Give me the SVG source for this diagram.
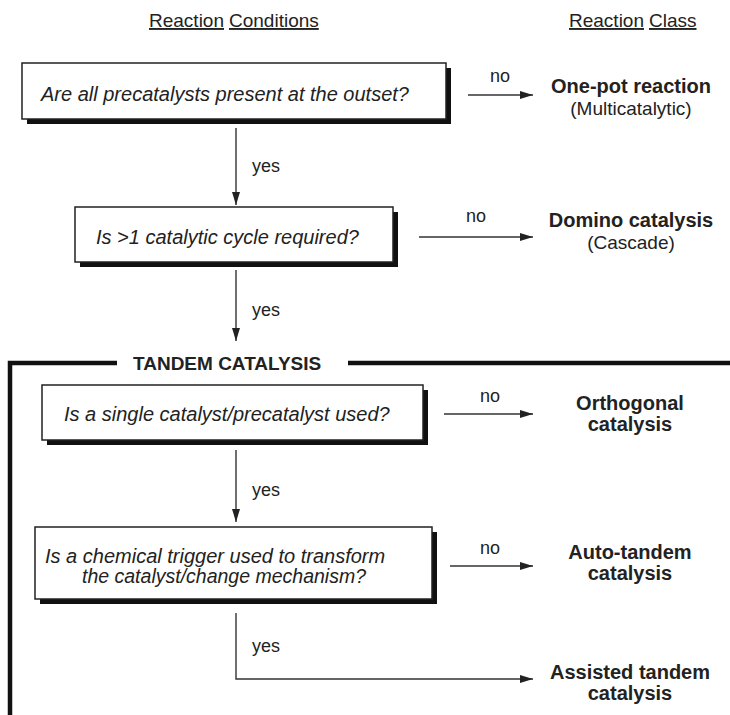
<svg xmlns="http://www.w3.org/2000/svg" width="730" height="715" viewBox="0 0 730 715">
<defs>
<marker id="ah" markerUnits="userSpaceOnUse" markerWidth="14" markerHeight="10" refX="13" refY="4" orient="auto">
<path d="M0,0 L13,4 L0,8 z" fill="#222"/>
</marker>
<style>
.hdr{font-family:"Liberation Sans",Arial,sans-serif;font-size:19px;fill:#222;text-decoration:underline}
.q{font-family:"Liberation Sans",Arial,sans-serif;font-size:20px;font-style:italic;fill:#222}
.lb{font-family:"Liberation Sans",Arial,sans-serif;font-size:20px;font-weight:bold;fill:#222;text-anchor:middle}
.sub{font-family:"Liberation Sans",Arial,sans-serif;font-size:19px;fill:#222;text-anchor:middle}
.yn{font-family:"Liberation Sans",Arial,sans-serif;font-size:18px;fill:#222}
.box{fill:#fff;stroke:#222;stroke-width:1.5}
.sh{fill:#111}
.ln{stroke:#333;stroke-width:1.4;fill:none}
.br{stroke:#111;stroke-width:4.5;fill:none}
</style>
</defs>
<rect width="730" height="715" fill="#fff"/>

<g id="headers">
<text class="hdr" x="149" y="27">Reaction</text>
<text class="hdr" x="229" y="27">Conditions</text>
<text class="hdr" x="569" y="27">Reaction</text>
<text class="hdr" x="649" y="27">Class</text>
</g>

<g id="tandem-bracket">
<path class="br" d="M10,715 L10,363 L117,363"/>
<path class="br" d="M348,363 L730,363"/>
<text x="133" y="370" style="font-family:'Liberation Sans',Arial,sans-serif;font-size:19px;font-weight:bold;fill:#222">TANDEM CATALYSIS</text>
</g>

<g id="connectors">
<line class="ln" x1="236" y1="128" x2="236" y2="205" marker-end="url(#ah)"/>
<line class="ln" x1="468" y1="95" x2="533" y2="95" marker-end="url(#ah)"/>
<line class="ln" x1="236" y1="270" x2="236" y2="341" marker-end="url(#ah)"/>
<line class="ln" x1="419" y1="237" x2="533" y2="237" marker-end="url(#ah)"/>
<line class="ln" x1="444" y1="414" x2="533" y2="414" marker-end="url(#ah)"/>
<line class="ln" x1="236" y1="450" x2="236" y2="522" marker-end="url(#ah)"/>
<line class="ln" x1="450" y1="566" x2="533" y2="566" marker-end="url(#ah)"/>
<path class="ln" d="M236,613 L236,679 L533,679" marker-end="url(#ah)"/>
<text class="yn" x="490" y="82">no</text>
<text class="yn" x="252" y="172">yes</text>
<text class="yn" x="466" y="222">no</text>
<text class="yn" x="252" y="316">yes</text>
<text class="yn" x="480" y="402">no</text>
<text class="yn" x="252" y="496">yes</text>
<text class="yn" x="480" y="554">no</text>
<text class="yn" x="252" y="652">yes</text>
</g>

<g id="q1">
<rect class="sh" x="27" y="68" width="424" height="56"/>
<rect class="box" x="22" y="63" width="424" height="56"/>
<text class="q" x="41" y="101">Are all precatalysts present at the outset?</text>
</g>

<g id="q2">
<rect class="sh" x="80" y="212" width="318" height="55"/>
<rect class="box" x="75" y="207" width="318" height="55"/>
<text class="q" x="96" y="244">Is &gt;1 catalytic cycle required?</text>
</g>

<g id="q3">
<rect class="sh" x="47" y="390" width="381" height="55"/>
<rect class="box" x="42" y="385" width="381" height="55"/>
<text class="q" x="64" y="421">Is a single catalyst/precatalyst used?</text>
</g>

<g id="q4">
<rect class="sh" x="40" y="532" width="397" height="72"/>
<rect class="box" x="35" y="527" width="397" height="72"/>
<text class="q" x="45" y="563">Is a chemical trigger used to transform</text>
<text class="q" x="82" y="583" style="font-size:19.5px">the catalyst/change mechanism?</text>
</g>

<g id="r1">
<text class="lb" x="631" y="93">One-pot reaction</text>
<text class="sub" x="631" y="115">(Multicatalytic)</text>
</g>
<g id="r2">
<text class="lb" x="631" y="227">Domino catalysis</text>
<text class="sub" x="631" y="249">(Cascade)</text>
</g>
<g id="r3">
<text class="lb" x="630" y="410">Orthogonal</text>
<text class="lb" x="630" y="431">catalysis</text>
</g>
<g id="r4">
<text class="lb" x="630" y="559">Auto-tandem</text>
<text class="lb" x="630" y="580">catalysis</text>
</g>
<g id="r5">
<text class="lb" x="630" y="679">Assisted tandem</text>
<text class="lb" x="630" y="700">catalysis</text>
</g>
</svg>
